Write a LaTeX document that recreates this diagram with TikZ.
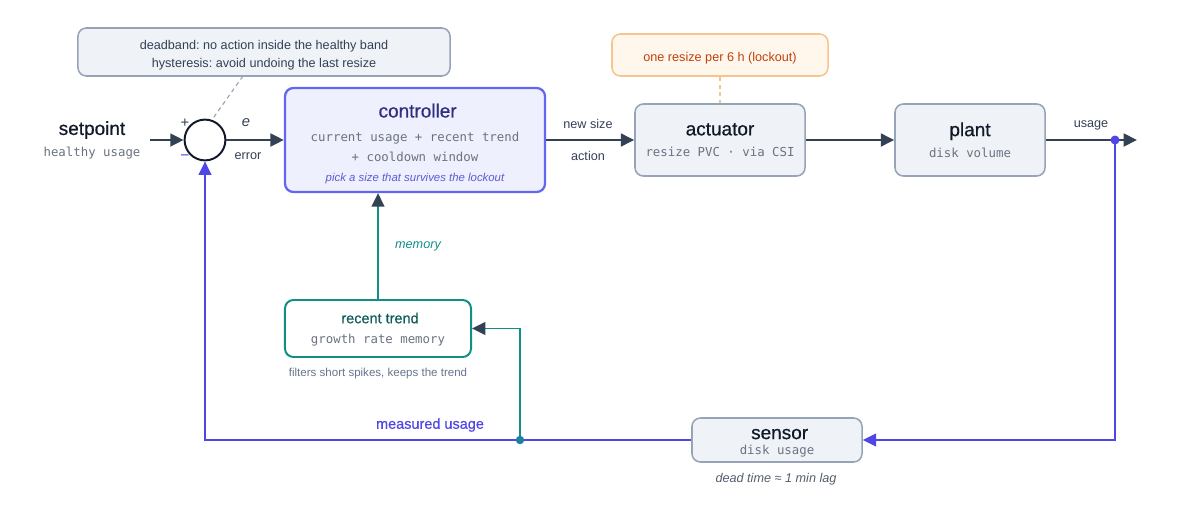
\documentclass[tikz,border=0pt]{standalone}
\usepackage{fontspec}
\setmainfont{Liberation Sans}
\setmonofont{DejaVu Sans Mono}
\newfontfamily\titlefont[FakeBold=0.6]{Liberation Sans}
\usetikzlibrary{arrows.meta}
\frenchspacing

\definecolor{ink}{HTML}{111827}
\definecolor{slate}{HTML}{334155}
\definecolor{muted}{HTML}{64748B}
\definecolor{codegray}{HTML}{6B7280}
\definecolor{boxfill}{HTML}{EFF3F8}
\definecolor{boxline}{HTML}{97A3B6}
\definecolor{fbline}{HTML}{4F46E5}
\definecolor{ctrlfill}{HTML}{EEF0FD}
\definecolor{ctrlline}{HTML}{6366F1}
\definecolor{ctrlink}{HTML}{312E81}
\definecolor{ctrlnote}{HTML}{5B5BD6}
\definecolor{memline}{HTML}{0F8F85}
\definecolor{memink}{HTML}{115E59}
\definecolor{splitdot}{HTML}{1F7FA3}
\definecolor{lockfill}{HTML}{FFF6EC}
\definecolor{lockline}{HTML}{F8C48E}
\definecolor{lockink}{HTML}{C2410C}

\newcommand{\blocktitle}{\titlefont\fontsize{13.5}{16}\selectfont}
\newcommand{\blockcode}{\fontsize{8.8}{10}\selectfont\ttfamily\color{codegray}}
\newcommand{\smalltext}{\fontsize{9}{11}\selectfont}
\newcommand{\topstrut}[1]{\rule{0pt}{#1}}

\begin{document}
\begin{tikzpicture}[x=0.025cm, y=-0.025cm,
    >={Triangle[length=9.5pt, width=9pt]},
    block/.style = {draw=boxline, fill=boxfill, line width=1.1pt, rounded corners=6pt, align=center, inner sep=0pt},
    sig/.style = {draw=slate, line width=2pt, ->},
    feedback/.style = {draw=fbline, line width=1.4pt},
    memory/.style = {draw=memline, line width=1.4pt, -{Triangle[length=9.5pt, width=9pt, color=slate]}},
    hint/.style = {draw=boxline, line width=0.8pt, dash pattern=on 3pt off 2.5pt},
    lbl/.style = {font=\smalltext, text=slate, inner sep=0pt}]

  \useasboundingbox (0,0) rectangle (1200,520);

  %notes above the loop
  \node[block, minimum width=9.3cm, minimum height=1.2cm, font=\fontsize{9}{12.8}\selectfont, text=slate] (deadband) at (264,52)
    {\topstrut{10.8pt}deadband: no action inside the healthy band\\hysteresis: avoid undoing the last resize};
  \node[block, draw=lockline, fill=lockfill, minimum width=5.4cm, minimum height=1.05cm, font=\smalltext, text=lockink,
    text height=10.8pt, text depth=1.9pt] (lockout) at (720,55)
    {one resize per 6 h (lockout)};

  %forward path
  \node[align=center, inner sep=0pt, minimum width=2.9cm, font=\fontsize{9}{15.1}\selectfont] (setpoint) at (92,140)
    {{\blocktitle\color{ink} setpoint}\\{\blockcode healthy usage}};
  \node[circle, draw=ink, line width=1.4pt, fill=white, minimum size=1.02cm, inner sep=0pt] (sum) at (205,140) {};
  \node[block, draw=ctrlline, fill=ctrlfill, line width=1.6pt, minimum width=6.5cm, minimum height=2.6cm, font=\fontsize{9}{14.3}\selectfont] (controller) at (415,140)
    {{\blocktitle\color{ctrlink}\topstrut{15.5pt} controller}\\[3pt]
     {\blockcode current usage + recent trend}\\
     {\blockcode + cooldown window}\\
     {\fontsize{8.1}{10}\selectfont\itshape\color{ctrlnote} pick a size that survives the lockout}};
  \node[block, minimum width=4.25cm, minimum height=1.8cm, font=\fontsize{9}{15.2}\selectfont] (actuator) at (720,140)
    {{\blocktitle\color{ink} actuator}\\{\blockcode resize PVC · via CSI}};
  \node[block, minimum width=3.75cm, minimum height=1.8cm, font=\fontsize{9}{15.2}\selectfont] (plant) at (970,140)
    {{\blocktitle\color{ink} plant}\\{\blockcode disk volume}};

  %feedback path
  \node[block, minimum width=4.25cm, minimum height=1.1cm, font=\fontsize{9}{10.6}\selectfont] (sensor) at (777,440)
    {{\blocktitle\color{ink}\topstrut{11.2pt} sensor}\\{\blockcode disk usage}};
  \node[block, draw=memline, fill=white, line width=1.4pt, minimum width=4.65cm, minimum height=1.425cm, font=\fontsize{9}{14.6}\selectfont] (trend) at (378,328.5)
    {{\titlefont\fontsize{10.3}{12}\selectfont\color{memink}\topstrut{9pt} recent trend}\\{\blockcode growth rate memory}};

  \coordinate (notefoot) at (243,76);
  \coordinate (tap) at (1115,140);
  \coordinate (out) at (1137,140);
  \coordinate (split) at (520,440);

  %labels
  \node[lbl, font=\fontsize{10.5}{12}\selectfont] (plus) at (185,123) {+};
  \node[lbl, text=fbline, font=\fontsize{11}{12}\selectfont] (minus) at (185,158) {−};
  \node[lbl, font=\fontsize{10.5}{12}\selectfont\itshape] (elabel) at (246,123) {e};
  \node[lbl] (errlabel) at (248,156) {error};
  \node[lbl] (newsize) at (588,124) {new size};
  \node[lbl] (action) at (588,156) {action};
  \node[lbl] (usage) at (1091,125) {usage};
  \node[lbl, text=memline, font=\smalltext\itshape] (memlabel) at (418,246) {memory};
  \node[lbl, text=fbline, font=\titlefont\fontsize{10.3}{12}\selectfont] (measured) at (430,425) {measured usage};
  \node[lbl, text=muted, font=\fontsize{8.2}{10}\selectfont] (filters) at (378,374) {filters short spikes, keeps the trend};
  \node[lbl, text=slate!85, font=\smalltext\itshape] (deadtime) at (776,479) {dead time ≈ 1 min lag};

  %connectors
  \draw[hint] (notefoot) -- (sum.71);
  \draw[hint, draw=lockline] (lockout.south) -- (actuator.north);
  \draw[sig] (setpoint.east) -- (sum.west);
  \draw[sig] (sum.east) -- (controller.west);
  \draw[sig] (controller.east) -- (actuator.west);
  \draw[sig] (actuator.east) -- (plant.west);
  \draw[sig] (plant.east) -- (out);

  \draw[feedback, ->] (tap) |- (sensor.east);
  \draw[feedback, ->] (sensor.west) -| (sum.south);
  \draw[memory] (split) |- (trend.east);
  \draw[memory] (trend.north) -- (trend.north |- controller.south);
  \fill[fbline] (tap) circle (3.2pt);
  \fill[splitdot] (split) circle (3pt);

\end{tikzpicture}
\end{document}
